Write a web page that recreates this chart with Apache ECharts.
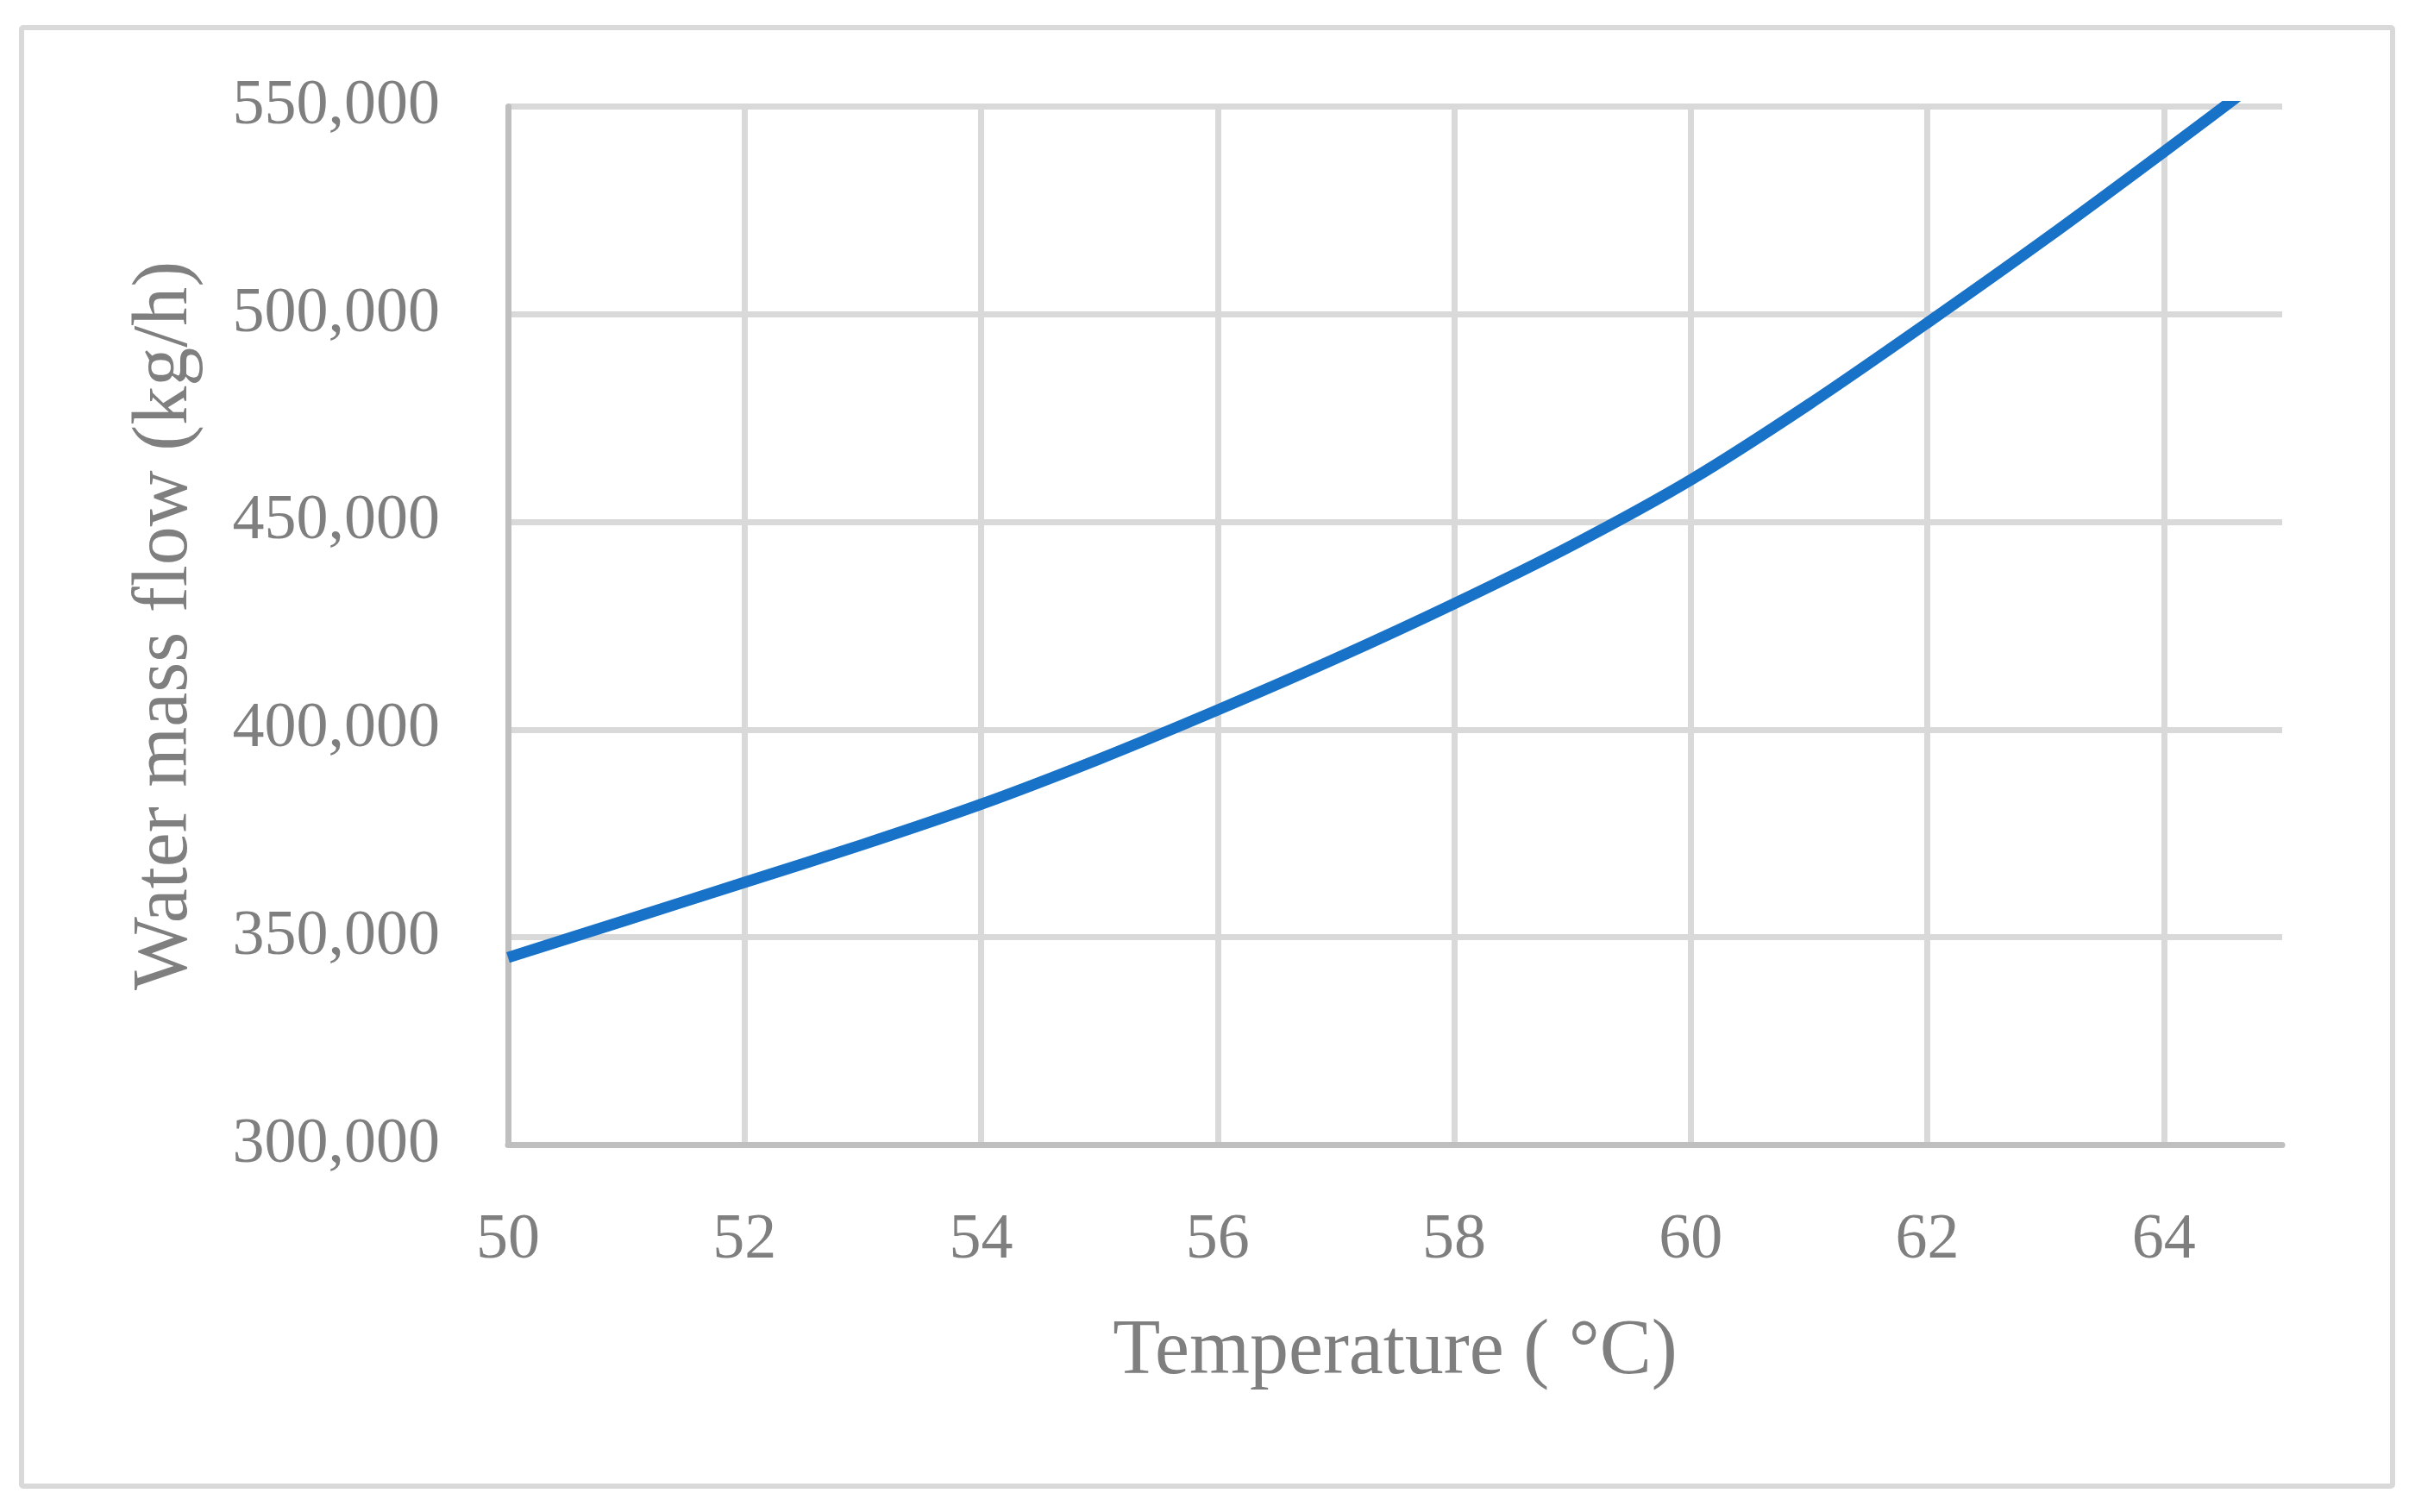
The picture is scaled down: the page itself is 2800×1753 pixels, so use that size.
<!DOCTYPE html>
<html>
<head>
<meta charset="utf-8">
<style>
  html, body { margin: 0; padding: 0; background: #ffffff; }
  #chart { width: 2800px; height: 1753px; }
</style>
<script src="https://cdn.jsdelivr.net/npm/echarts@6/dist/echarts.min.js"></script>
</head>
<body>
<div id="chart"></div>
<script>
// Data
var temperature = [50, 51, 52, 53, 54, 55, 56, 57, 58, 59, 60, 61, 62, 63, 64, 65];
var massFlow = [345100, 354100, 363200, 372300, 382000, 392900, 404700, 417100, 430300, 444400, 460100, 478300, 497900, 518100, 539100, 560500];
var xTicks = [50, 52, 54, 56, 58, 60, 62, 64];
var yTicks = [300000, 350000, 400000, 450000, 500000, 550000];
var xTitle = 'Temperature ( °C)';
var yTitle = 'Water mass flow (kg/h)';

var points = temperature.map(function (t, i) { return [t, massFlow[i]]; });

var FONT = '"Liberation Serif", "Times New Roman", serif';
var TEXT = '#7f7f7f';

var chart = echarts.init(document.getElementById('chart'), null, { renderer: 'canvas' });
chart.setOption({
  animation: false,
  backgroundColor: '#ffffff',
  graphic: [{
    type: 'rect',
    shape: { x: 25, y: 32, width: 2749, height: 1691, r: 2 },
    style: { fill: 'none', stroke: '#d9d9d9', lineWidth: 6 },
    silent: true,
    z: 0
  }],
  grid: { left: 589, right: 154, top: 123.5, bottom: 425.75, containLabel: false },
  xAxis: {
    type: 'value',
    min: xTicks[0],
    max: 65,
    interval: 2,
    name: xTitle,
    nameLocation: 'middle',
    nameGap: 196,
    nameTextStyle: { fontFamily: FONT, fontSize: 90, color: TEXT },
    axisLine: { show: true, onZero: false, lineStyle: { color: '#bfbfbf', width: 7 } },
    axisTick: { show: false },
    axisLabel: {
      fontFamily: FONT, fontSize: 74, color: TEXT, margin: 74,
      showMaxLabel: false,
      formatter: function (v) { return xTicks.indexOf(v) >= 0 ? String(v) : ''; }
    },
    splitLine: { show: true, showMaxLine: false, lineStyle: { color: '#d9d9d9', width: 7 } }
  },
  yAxis: {
    type: 'value',
    min: yTicks[0],
    max: yTicks[yTicks.length - 1],
    interval: 50000,
    name: yTitle,
    nameLocation: 'middle',
    nameGap: 352,
    nameTextStyle: { fontFamily: FONT, fontSize: 90, color: TEXT },
    axisLine: { show: true, lineStyle: { color: '#bfbfbf', width: 7 } },
    axisTick: { show: false },
    axisLabel: {
      fontFamily: FONT, fontSize: 74, color: TEXT, margin: 79,
      formatter: function (v) { return v.toLocaleString('en-US'); }
    },
    splitLine: { show: true, lineStyle: { color: '#d9d9d9', width: 7 } }
  },
  series: [{
    type: 'line',
    data: points,
    smooth: 0.3,
    showSymbol: false,
    clip: true,
    lineStyle: { color: '#1772c8', width: 13, cap: 'butt' },
    itemStyle: { color: '#1772c8' },
    z: 3
  }]
});
</script>
</body>
</html>
